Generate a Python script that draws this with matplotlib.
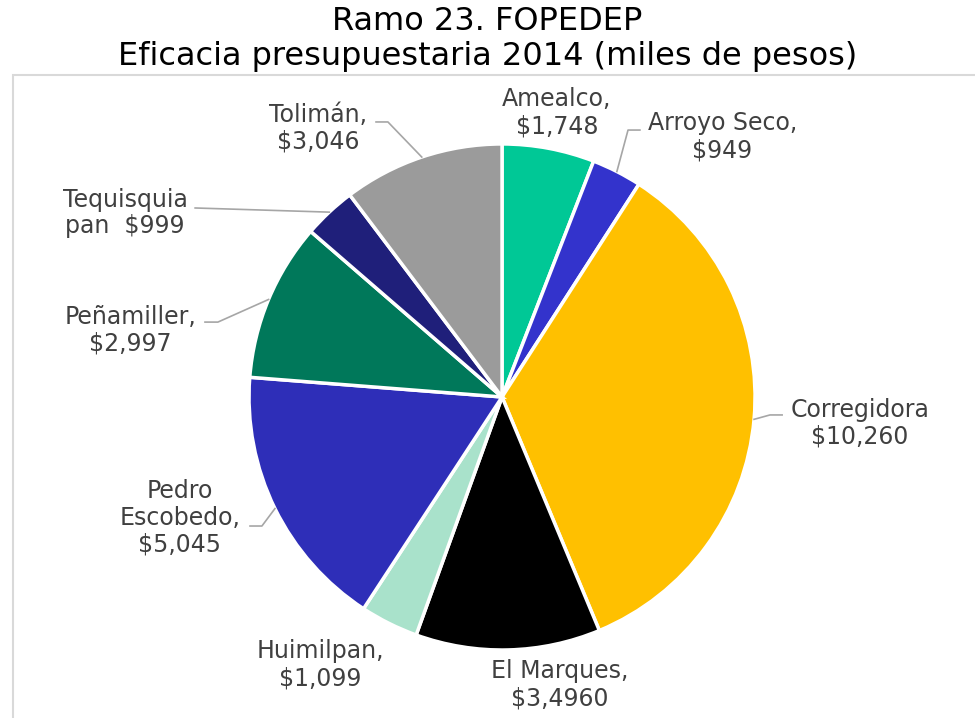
import numpy as np
import matplotlib.pyplot as plt
from matplotlib.patches import Rectangle

# datos del grafico (miles de pesos)
municipios = ['Amealco', 'Arroyo Seco', 'Corregidora', 'El Marques', 'Huimilpan',
              'Pedro Escobedo', 'Peñamiller', 'Tequisquiapan', 'Tolimán']
valores = [1748, 949, 10260, 3496, 1099, 5045, 2997, 999, 3046]
etiquetas = ['Amealco,\n$1,748', 'Arroyo Seco,\n$949', 'Corregidora\n$10,260',
             'El Marques,\n$3,4960', 'Huimilpan,\n$1,099', 'Pedro\nEscobedo,\n$5,045',
             'Peñamiller,\n$2,997', 'Tequisquia\npan  $999', 'Tolimán,\n$3,046']
colores = ['#00C896', '#3333CC', '#FFC000', '#000000', '#A9E2CB',
           '#2E2EB8', '#00785A', '#1F1F7A', '#9B9B9B']

# posicion del texto (unidades del radio) y codo de la linea guia (None = sin linea)
pos_texto = [(0.217, 1.123), (0.870, 1.028), (1.415, -0.103), (0.229, -1.138),
             (-0.719, -1.059), (-1.273, -0.478), (-1.470, 0.265), (-1.490, 0.727),
             (-0.727, 1.063)]
codos = [None, [(0.498, 1.055), (0.545, 1.055)], [(1.059, -0.071), (1.107, -0.071)],
         None, None, [(-0.949, -0.51), (-0.996, -0.51)],
         [(-1.123, 0.296), (-1.174, 0.296)], [(-1.213, 0.747)],
         [(-0.451, 1.087), (-0.498, 1.087)]]

fig = plt.figure(figsize=(9.75, 7.18), dpi=100)

# marco gris claro
fig.patches.append(Rectangle((13 / 975, -0.1), 1.0, 1 - 75 / 718 + 0.1,
                             transform=fig.transFigure, fill=False,
                             edgecolor='#D9D9D9', linewidth=1.5))

fig.text(0.5, 1 - 21 / 718, 'Ramo 23. FOPEDEP', ha='center', va='center',
         fontsize=23, family='DejaVu Sans')
fig.text(0.5, 1 - 57 / 718, 'Eficacia presupuestaria 2014 (miles de pesos)',
         ha='center', va='center', fontsize=23, family='DejaVu Sans')

ax = fig.add_axes([0.2554, 0.0946, 0.519, 0.705])
wedges, _ = ax.pie(valores, colors=colores, startangle=90, counterclock=False,
                   wedgeprops=dict(edgecolor='white', linewidth=2.5))
ax.set_xlim(-1, 1)
ax.set_ylim(-1, 1)
ax.set_aspect('equal')

for w, lab, (tx, ty), codo in zip(wedges, etiquetas, pos_texto, codos):
    ax.text(tx, ty, lab, ha='center', va='center', fontsize=17, color='#404040',
            family='DejaVu Sans', linespacing=1.15)
    if codo is None:
        continue
    ang = np.deg2rad((w.theta1 + w.theta2) / 2)
    xs = [np.cos(ang)] + [c[0] for c in codo]
    ys = [np.sin(ang)] + [c[1] for c in codo]
    ax.plot(xs, ys, color='#A6A6A6', linewidth=1.2, clip_on=False)

fig.savefig('out.png', dpi=100)
